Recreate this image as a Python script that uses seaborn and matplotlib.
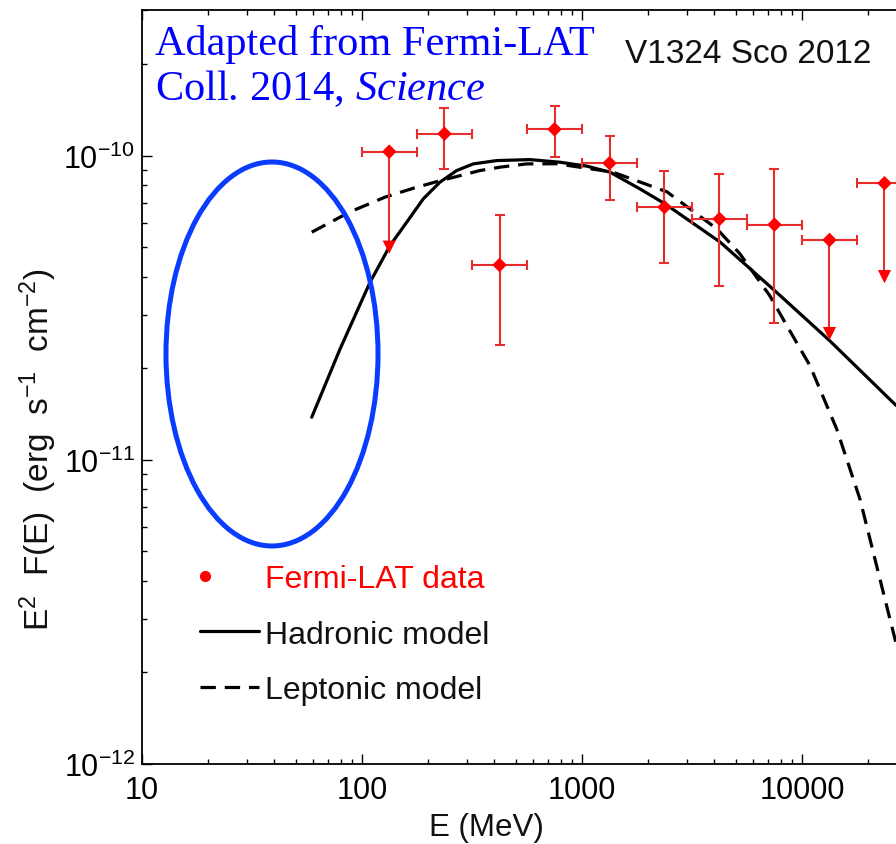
import numpy as np
import pandas as pd
import matplotlib
matplotlib.use("Agg")
import matplotlib.pyplot as plt
import seaborn as sns
from matplotlib.patches import Ellipse
from matplotlib.lines import Line2D
from matplotlib.legend_handler import HandlerLine2D
from matplotlib.ticker import LogLocator, FuncFormatter, NullFormatter, LogFormatterSciNotation

# ---------------- data ----------------
e_center = [133, 237, 422, 750, 1334, 2371, 4217, 7499, 13335, 23714]
e_low = [100, 178, 316, 562, 1000, 1778, 3162, 5623, 10000, 17783]
e_high = [178, 316, 562, 1000, 1778, 3162, 5623, 10000, 17783, 31623]
flux = [1.03e-10, 1.18e-10, 4.37e-11, 1.22e-10, 9.44e-11, 6.77e-11, 6.19e-11, 5.93e-11, 5.28e-11, 8.11e-11]
flux_hi = [np.nan, 1.43e-10, 6.40e-11, 1.45e-10, 1.16e-10, 8.93e-11, 8.72e-11, 9.04e-11, np.nan, np.nan]
flux_lo = [np.nan, 0.904e-10, 2.38e-11, 0.988e-10, 7.17e-11, 4.43e-11, 3.73e-11, 2.81e-11, np.nan, np.nan]
is_ul = [True, False, False, False, False, False, False, False, True, True]
ul_end = [5.0e-11, 2.6e-11, 4.0e-11]   # arrow heads of the three upper limits

had_E = [59.1, 79.4, 108.7, 134.1, 159.7, 190, 226.2, 269.4, 320.5, 409.6, 580.2, 794.3, 1054, 1341,
         1834, 2384, 4239, 7383, 13270, 26750]
had_F = [1.38e-11, 2.31e-11, 3.83e-11, 5.06e-11, 6.04e-11, 7.21e-11, 8.18e-11, 8.93e-11, 9.39e-11, 9.63e-11,
         9.70e-11, 9.51e-11, 9.23e-11, 8.82e-11, 7.77e-11, 6.94e-11, 5.20e-11, 3.64e-11, 2.475e-11, 1.51e-11]

lep_E = [59.1, 88.2, 127.2, 171.1, 218.6, 343.9, 423.8, 560.6, 767.4, 1383, 2434, 4108, 5227, 7153, 8548,
         10875, 14380, 16530, 18350, 20380, 22620, 25120, 26750]
lep_F = [5.60e-11, 6.53e-11, 7.30e-11, 7.81e-11, 8.21e-11, 8.93e-11, 9.16e-11, 9.39e-11, 9.40e-11, 8.82e-11,
         7.60e-11, 5.74e-11, 4.75e-11, 3.455e-11, 2.754e-11, 2.038e-11, 1.262e-11, 9.32e-12, 7.42e-12,
         5.48e-12, 4.05e-12, 2.99e-12, 2.50e-12]

x_ticks = [10, 100, 1000, 10000]
y_ticks = [1e-12, 1e-11, 1e-10]
legend_labels = ["Fermi-LAT data", "Hadronic model", "Leptonic model"]

# ---------------- style ----------------
sns.set_theme(style="ticks")
plt.rcParams["font.family"] = ["Liberation Sans", "DejaVu Sans"]
plt.rcParams["mathtext.fontset"] = "custom"
plt.rcParams["mathtext.rm"] = "Liberation Sans"
plt.rcParams["mathtext.it"] = "Liberation Serif:italic"
plt.rcParams["mathtext.default"] = "regular"

RED = "#ff0000"
ERED = "#e62e2e"
DASH = (0, (4.8, 2.8))

fig = plt.figure(figsize=(8.96, 8.45), dpi=100)
ax = fig.add_axes([142 / 896, 80 / 845, 754 / 896, 754 / 845])
ax.set_xscale("log")
ax.set_yscale("log")

# model curves
sns.lineplot(x=had_E, y=had_F, ax=ax, color="black", lw=2.3, sort=False, estimator=None, zorder=3)
sns.lineplot(x=lep_E, y=lep_F, ax=ax, color="black", lw=2.3, ls=DASH, sort=False, estimator=None, zorder=3)

df = pd.DataFrame({"E": e_center, "lo": e_low, "hi": e_high, "F": flux,
                   "Fhi": flux_hi, "Flo": flux_lo, "ul": is_ul})
det = df[~df.ul]
ul = df[df.ul].copy()
ul["end"] = ul_end

eb_kw = dict(fmt="none", ecolor=ERED, elinewidth=1.5, capsize=3.5, capthick=1.5, zorder=4)
ax.errorbar(det.E, det.F, xerr=[det.E - det.lo, det.hi - det.E],
            yerr=[det.F - det.Flo, det.Fhi - det.F], **eb_kw)
ax.errorbar(ul.E, ul.F, xerr=[ul.E - ul.lo, ul.hi - ul.E], **eb_kw)
ax.vlines(ul.E, ul.end, ul.F, color=ERED, lw=1.5, zorder=4)

sns.scatterplot(x=df.E, y=df.F, ax=ax, marker="D", s=55, color=RED, edgecolor="none", zorder=5)
sns.scatterplot(x=ul.E, y=ul.end, ax=ax, marker="v", s=90, color=RED, edgecolor="none", zorder=5)

# axes
ax.set_xlim(10, 26750)
ax.set_ylim(1e-12, 3.01e-10)
ax.set_xticks(x_ticks)
ax.xaxis.set_major_formatter(FuncFormatter(lambda v, p: f"{v:g}"))
ax.xaxis.set_minor_locator(LogLocator(base=10, subs=np.arange(2, 10)))
ax.xaxis.set_minor_formatter(NullFormatter())
ax.set_yticks(y_ticks)
ax.yaxis.set_major_formatter(LogFormatterSciNotation())
ax.yaxis.set_minor_locator(LogLocator(base=10, subs=np.arange(2, 10), numticks=20))
ax.yaxis.set_minor_formatter(NullFormatter())

ax.tick_params(which="both", direction="in", top=True, right=False, colors="black", width=1.0)
ax.tick_params(which="major", length=7.2)
ax.tick_params(which="minor", length=3.6)
ax.tick_params(axis="x", which="major", labelsize=22, pad=8)
ax.tick_params(axis="y", which="major", labelsize=22, pad=5)
for s in ["left", "bottom", "top"]:
    ax.spines[s].set_linewidth(1.3)
    ax.spines[s].set_color("black")
ax.spines["right"].set_visible(False)

ax.set_xlabel("E (MeV)", fontsize=22.5, color="#111111")
ax.set_ylabel(r"E$^2$  F(E)  (erg  s$^{-1}$  cm$^{-2}$)", fontsize=24, color="#111111")
ax.xaxis.set_label_coords(0.457, -0.064)
ax.yaxis.set_label_coords(-0.110, 0.418)

# annotations
ax.text(0.6406, 0.9306, "V1324 Sco 2012", transform=ax.transAxes, fontsize=24,
        color="#111111", ha="left", va="baseline")
ax.text(0.0172, 0.9416, "Adapted from Fermi-LAT", transform=ax.transAxes, fontsize=30.5,
        family="Liberation Serif", color="#0000ff", ha="left", va="baseline")
ax.text(0.0172, 0.8820, r"Coll. 2014, $\mathit{Science}$", transform=ax.transAxes, fontsize=30.5,
        family="Liberation Serif", color="#0000ff", ha="left", va="baseline")
ax.add_patch(Ellipse((0.1724, 0.5438), 0.2812, 0.5093, transform=ax.transAxes,
                     fill=False, edgecolor="#0a3cff", lw=3.6, zorder=6))


class LeftMarkerHandler(HandlerLine2D):
    # place the single legend marker near the left end of the handle box
    def get_xdata(self, legend, xdescent, ydescent, width, height, fontsize):
        return [-xdescent, -xdescent + 7.2], [-xdescent + 3.6]


handles = [Line2D([], [], marker="o", color=RED, ls="none", ms=7),
           Line2D([], [], color="black", lw=2.3),
           Line2D([], [], color="black", lw=2.3, ls=DASH)]
ax.legend(handles, legend_labels, loc="center left", bbox_to_anchor=(0.0769, 0.1717),
          frameon=False, fontsize=23, handlelength=1.85, handletextpad=0.2,
          labelspacing=0.80, borderpad=0, borderaxespad=0,
          labelcolor=[RED, "#111111", "#111111"],
          handler_map={handles[0]: LeftMarkerHandler(numpoints=1)})

fig.savefig("out.png", dpi=100)
